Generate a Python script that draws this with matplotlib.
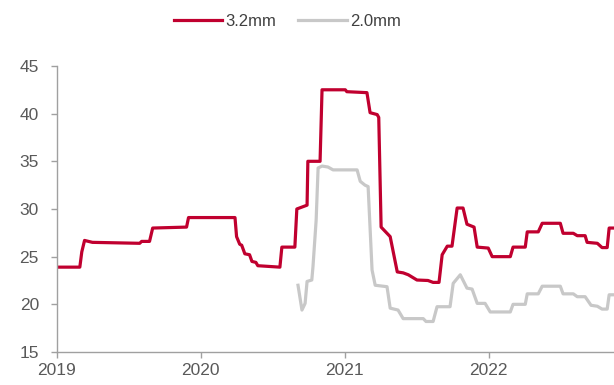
import matplotlib
matplotlib.use("Agg")
import matplotlib.pyplot as plt
import matplotlib.dates as mdates
import pandas as pd

plt.rcParams['font.family'] = ['Liberation Sans', 'DejaVu Sans']

# 3.2mm price series (weekly, change points)
dates_32 = [
    "2019-01-01", "2019-02-28", "2019-03-05", "2019-03-12", "2019-04-01",
    "2019-07-30", "2019-08-04", "2019-08-24", "2019-09-01", "2019-11-26",
    "2019-12-01", "2020-03-28", "2020-04-01", "2020-04-09", "2020-04-14",
    "2020-04-22", "2020-05-04", "2020-05-10", "2020-05-20", "2020-05-25",
    "2020-07-20", "2020-07-25", "2020-08-27",
    "2020-09-01", "2020-09-27", "2020-09-29", "2020-10-30", "2020-11-04",
    "2021-01-02", "2021-01-06", "2021-02-26", "2021-03-06", "2021-03-24",
    "2021-03-28", "2021-04-03", "2021-04-26", "2021-05-14", "2021-05-29",
    "2021-06-11", "2021-07-03", "2021-07-31", "2021-08-13", "2021-08-28",
    "2021-09-05", "2021-09-18", "2021-09-30", "2021-10-13", "2021-10-28",
    "2021-11-07", "2021-11-25", "2021-12-03", "2021-12-31", "2022-01-10",
    "2022-02-25", "2022-03-04", "2022-04-04", "2022-04-09", "2022-05-07",
    "2022-05-17", "2022-07-02", "2022-07-09", "2022-08-04", "2022-08-14",
    "2022-09-03", "2022-09-08", "2022-10-04", "2022-10-16", "2022-10-29",
    "2022-11-03", "2022-11-12",
]
values_32 = [
    23.9, 23.9, 25.5, 26.7, 26.5,
    26.4, 26.6, 26.6, 28.0, 28.1,
    29.1, 29.1, 27.1, 26.3, 26.2,
    25.3, 25.2, 24.5, 24.4, 24.05,
    23.9, 26.0, 26.0,
    30.0, 30.4, 35.0, 35.0, 42.5,
    42.5, 42.3, 42.2, 40.1, 39.9,
    39.6, 28.1, 27.1, 23.4, 23.3,
    23.1, 22.55, 22.5, 22.3, 22.3,
    25.2, 26.1, 26.1, 30.1, 30.1,
    28.4, 28.1, 26.0, 25.9, 25.0,
    25.0, 26.0, 26.0, 27.6, 27.6,
    28.5, 28.5, 27.45, 27.45, 27.2,
    27.2, 26.5, 26.4, 25.95, 25.95,
    28.0, 28.0,
]

# 2.0mm price series
dates_20 = [
    "2020-09-04", "2020-09-14", "2020-09-22", "2020-09-27", "2020-10-09",
    "2020-10-12", "2020-10-20", "2020-10-25", "2020-11-04", "2020-11-19",
    "2020-12-02", "2021-02-01", "2021-02-09", "2021-02-21", "2021-03-01",
    "2021-03-11", "2021-03-19", "2021-04-18", "2021-04-26", "2021-05-16",
    "2021-05-29", "2021-07-19", "2021-07-26", "2021-08-13", "2021-08-23",
    "2021-09-25", "2021-10-03", "2021-10-21", "2021-11-07", "2021-11-20",
    "2021-12-03", "2021-12-23", "2022-01-05", "2022-02-25", "2022-03-04",
    "2022-04-04", "2022-04-09", "2022-05-07", "2022-05-17", "2022-07-02",
    "2022-07-09", "2022-08-04", "2022-08-14", "2022-09-03", "2022-09-18",
    "2022-10-04", "2022-10-16", "2022-10-29", "2022-11-03", "2022-11-12",
]
values_20 = [
    22.0, 19.4, 20.1, 22.4, 22.55,
    23.95, 28.8, 34.3, 34.5, 34.4,
    34.1, 34.1, 32.9, 32.5, 32.35,
    23.6, 22.0, 21.85, 19.6, 19.4,
    18.5, 18.5, 18.2, 18.2, 19.75,
    19.75, 22.2, 23.1, 21.7, 21.6,
    20.1, 20.1, 19.2, 19.2, 20.0,
    20.0, 21.1, 21.1, 21.9, 21.9,
    21.1, 21.1, 20.8, 20.8, 19.9,
    19.8, 19.5, 19.5, 21.0, 21.0,
]

series_labels = ["3.2mm", "2.0mm"]
series_colors = ["#C0002F", "#C8C8C8"]
year_ticks = ["2019-01-01", "2020-01-01", "2021-01-01", "2022-01-01"]
y_ticks = [15, 20, 25, 30, 35, 40, 45]

fig = plt.figure(figsize=(6.14, 3.85), dpi=100)
ax = fig.add_axes([0.0928, 0.0857, 0.907, 0.743])

ax.plot(pd.to_datetime(dates_32), values_32, color=series_colors[0], lw=2.3,
        label=series_labels[0], solid_joinstyle="round")
ax.plot(pd.to_datetime(dates_20), values_20, color=series_colors[1], lw=2.3,
        label=series_labels[1], solid_joinstyle="round")

ax.set_xlim(pd.Timestamp("2019-01-01"), pd.Timestamp("2022-11-15"))
ax.set_ylim(15, 45)
ax.set_yticks(y_ticks)
ax.set_xticks(pd.to_datetime(year_ticks))
ax.xaxis.set_major_formatter(mdates.DateFormatter("%Y"))

for s in ["top", "right"]:
    ax.spines[s].set_visible(False)
for s in ["left", "bottom"]:
    ax.spines[s].set_color("#A0A0A0")
    ax.spines[s].set_linewidth(1.0)

ax.tick_params(axis="both", colors="#A0A0A0", labelcolor="#595959",
               labelsize=12.5, length=4, width=1.0, direction="out")
ax.tick_params(axis="y", pad=9)
ax.tick_params(axis="x", pad=4)

fig.legend(loc="center", bbox_to_anchor=(0.468, 0.945), ncol=2,
           frameon=False, fontsize=12, handlelength=2.9, handletextpad=0.2,
           columnspacing=1.3, labelcolor="#404040")

fig.savefig("out.png", dpi=100)
